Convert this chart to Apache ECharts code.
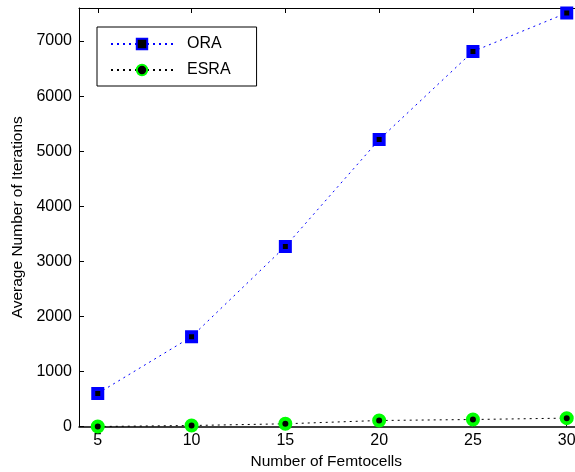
<!DOCTYPE html>
<html>
<head>
<meta charset="utf-8">
<script src="https://cdn.jsdelivr.net/npm/echarts@6/dist/echarts.min.js"></script>
<style>html,body{margin:0;padding:0;background:#fff}#c{width:575px;height:472px}</style>
</head>
<body>
<div id="c"></div>
<script>
const femtocells = [5, 10, 15, 20, 25, 30];
const oraValues = [600, 1630, 3270, 5210, 6810, 7510];
const esraValues = [0, 18, 49, 109, 127, 152];
const xTicks = [5, 10, 15, 20, 25, 30];
const yTicks = [0, 1000, 2000, 3000, 4000, 5000, 6000, 7000];

const font = 'Liberation Sans, Arial, Helvetica, sans-serif';
const chart = echarts.init(document.getElementById('c'), null, {renderer: 'canvas'});
const pairs = (xs, ys) => xs.map((x, i) => [x, ys[i]]);

chart.setOption({
  animation: false,
  backgroundColor: '#fff',
  grid: {left: 79, top: 8, width: 506.5, bottom: 45.5, containLabel: false, outerBoundsMode: 'none'},
  legend: {
    show: true,
    orient: 'vertical',
    left: 97, top: 27,
    padding: [9, 26, 8, 13],
    itemWidth: 62, itemHeight: 13, itemGap: 10,
    borderColor: '#000', borderWidth: 1,
    backgroundColor: '#fff',
    textStyle: {fontFamily: font, fontSize: 16, color: '#000', padding: [0, 0, 0, 9]},
    data: ['ORA', 'ESRA']
  },
  xAxis: [{
    type: 'value', min: 4, max: 31, position: 'bottom',
    name: 'Number of Femtocells', nameLocation: 'middle', nameGap: 27,
    nameTextStyle: {fontFamily: font, fontSize: 15.5, color: '#000', padding: [0, 12, 0, 0]},
    axisLine: {show: true, lineStyle: {color: '#000', width: 1.5}},
    axisTick: {show: true, inside: true, length: 5, customValues: xTicks, lineStyle: {color: '#000'}},
    axisLabel: {customValues: xTicks, fontFamily: font, fontSize: 16, color: '#000', margin: 6},
    splitLine: {show: false}
  }, {
    type: 'value', min: 4, max: 31, position: 'top',
    axisLine: {show: true, lineStyle: {color: '#000', width: 1}},
    axisTick: {show: true, inside: true, length: 5, customValues: xTicks, lineStyle: {color: '#000'}},
    axisLabel: {show: false},
    splitLine: {show: false}
  }],
  yAxis: [{
    type: 'value', min: 0, max: 7600, position: 'left',
    name: 'Average Number of Iterations', nameLocation: 'middle', nameGap: 53,
    nameTextStyle: {fontFamily: font, fontSize: 15.5, color: '#000'},
    axisLine: {show: true, lineStyle: {color: '#000', width: 1}},
    axisTick: {show: true, inside: true, length: 5, customValues: yTicks, lineStyle: {color: '#000'}},
    axisLabel: {customValues: yTicks, formatter: v => String(v), fontFamily: font, fontSize: 16, color: '#000', margin: 7},
    splitLine: {show: false}
  }],
  series: [{
    name: 'ORA', type: 'line', xAxisIndex: 0, yAxisIndex: 0,
    data: pairs(femtocells, oraValues),
    symbol: 'rect', symbolSize: 9,
    lineStyle: {color: '#0000ff', width: 1, type: [2, 4]},
    itemStyle: {color: '#000', borderColor: '#0000ff', borderWidth: 4},
    emphasis: {disabled: true}, z: 3
  }, {
    name: 'ESRA', type: 'line', xAxisIndex: 0, yAxisIndex: 0,
    data: pairs(femtocells, esraValues),
    symbol: 'circle', symbolSize: 10,
    lineStyle: {color: '#000', width: 1, type: [2, 4]},
    itemStyle: {color: '#000', borderColor: '#00ff00', borderWidth: 4},
    emphasis: {disabled: true}, z: 4
  }]
});
</script>
</body>
</html>
